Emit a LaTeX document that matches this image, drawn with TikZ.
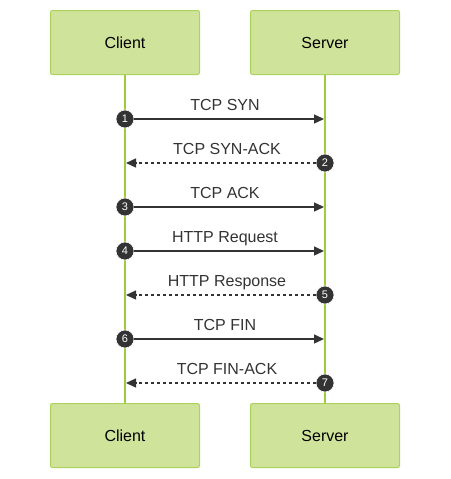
\documentclass[tikz,border=0pt]{standalone}
\usepackage{fontspec}
\setmainfont{Liberation Sans}
\usetikzlibrary{arrows.meta}
\definecolor{boxfill}{HTML}{D0E39A}
\definecolor{boxline}{HTML}{ABD35C}
\definecolor{lifeline}{HTML}{9DCB3C}
\definecolor{msg}{HTML}{333333}
\tikzset{
  actor/.style={draw=boxline,fill=boxfill,line width=1pt,rounded corners=2pt,
    minimum width=149pt,minimum height=64pt,inner sep=0pt,
    font=\fontsize{16}{19}\selectfont},
  life/.style={draw=lifeline,line width=1.6pt},
  num/.style={circle,fill=msg,draw=white,line width=0.6pt,text=white,
    minimum size=18pt,inner sep=0pt,font=\fontsize{11}{13}\selectfont},
  lbl/.style={anchor=base,inner sep=0pt,text=msg,font=\fontsize{16}{19}\selectfont},
  call/.style={draw=msg,line width=1.3pt,-{Triangle[length=10pt,width=9pt]}},
  reply/.style={call,dash pattern=on 3pt off 3pt}
}
\begin{document}
\begin{tikzpicture}[x=1pt,y=-1pt]
  \useasboundingbox (0,0) rectangle (450,479);
  \node[actor] (c1) at (125,42.5) {Client};
  \node[actor] (s1) at (325,42.5) {Server};
  \node[actor] (c2) at (125,435.5) {Client};
  \node[actor] (s2) at (325,435.5) {Server};
  \draw[life] (c1) -- (c2);
  \draw[life] (s1) -- (s2);
  % messages
  \node[num] (n1) at (125,119) {1};
  \coordinate (e1) at (324,119);
  \node[lbl] (t1) at (225,110) {TCP SYN};
  \node[num] (n2) at (325,163) {2};
  \coordinate (e2) at (126,163);
  \node[lbl] (t2) at (227,154) {TCP SYN-ACK};
  \node[num] (n3) at (125,207) {3};
  \coordinate (e3) at (324,207);
  \node[lbl] (t3) at (225,198) {TCP ACK};
  \node[num] (n4) at (125,251) {4};
  \coordinate (e4) at (324,251);
  \node[lbl] (t4) at (225,242) {HTTP Request};
  \node[num] (n5) at (325,295) {5};
  \coordinate (e5) at (126,295);
  \node[lbl] (t5) at (227,286) {HTTP Response};
  \node[num] (n6) at (125,339) {6};
  \coordinate (e6) at (324,339);
  \node[lbl] (t6) at (225,330) {TCP FIN};
  \node[num] (n7) at (325,383) {7};
  \coordinate (e7) at (126,383);
  \node[lbl] (t7) at (227,374) {TCP FIN-ACK};
  \begin{scope}
    \draw[call] (n1) -- (e1);
    \draw[reply] (n2) -- (e2);
    \draw[call] (n3) -- (e3);
    \draw[call] (n4) -- (e4);
    \draw[reply] (n5) -- (e5);
    \draw[call] (n6) -- (e6);
    \draw[reply] (n7) -- (e7);
  \end{scope}
\end{tikzpicture}
\end{document}
